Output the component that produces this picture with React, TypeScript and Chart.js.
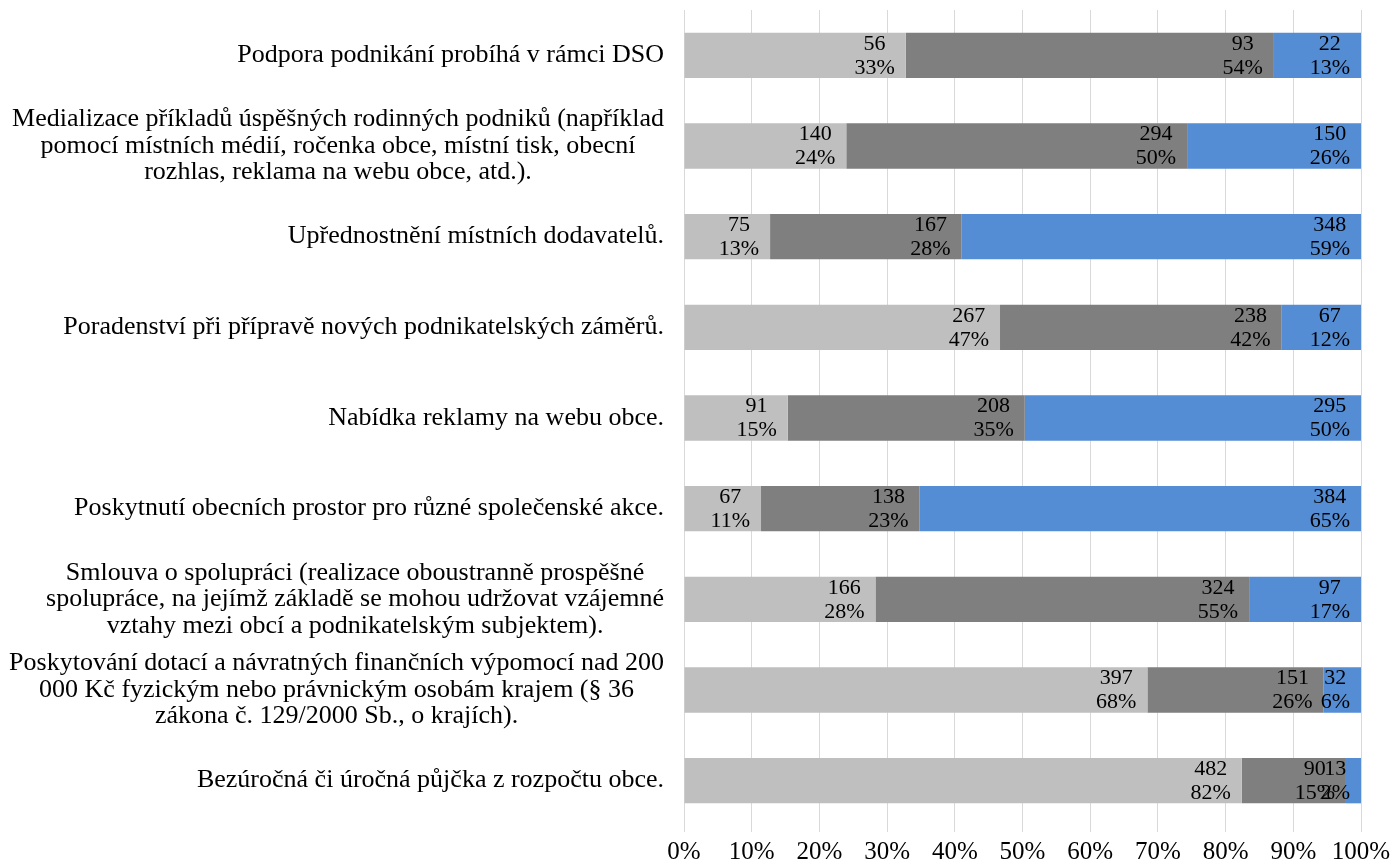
import React, { useEffect, useRef } from "react";
import { Chart, registerables } from "chart.js";

Chart.register(...registerables);

const categories: string[][] = [
  ["Podpora podnikání probíhá v rámci DSO"],
  [
    "Medializace příkladů úspěšných rodinných podniků (například",
    "pomocí místních médií, ročenka obce, místní tisk, obecní",
    "rozhlas, reklama na webu obce, atd.).",
  ],
  ["Upřednostnění místních dodavatelů."],
  ["Poradenství při přípravě nových podnikatelských záměrů."],
  ["Nabídka reklamy na webu obce."],
  ["Poskytnutí obecních prostor pro různé společenské akce."],
  [
    "Smlouva o spolupráci (realizace oboustranně prospěšné",
    "spolupráce, na jejímž základě se mohou udržovat vzájemné",
    "vztahy mezi obcí a podnikatelským subjektem).",
  ],
  [
    "Poskytování dotací a návratných finančních výpomocí nad 200",
    "000 Kč fyzickým nebo právnickým osobám krajem (§ 36",
    "zákona č. 129/2000 Sb., o krajích).",
  ],
  ["Bezúročná či úročná půjčka z rozpočtu obce."],
];

const seriesA: number[] = [56, 140, 75, 267, 91, 67, 166, 397, 482];
const seriesB: number[] = [93, 294, 167, 238, 208, 138, 324, 151, 90];
const seriesC: number[] = [22, 150, 348, 67, 295, 384, 97, 32, 13];

const seriesColors: string[] = ["#BFBFBF", "#7F7F7F", "#548DD4"];
const xTicks: number[] = [0, 10, 20, 30, 40, 50, 60, 70, 80, 90, 100];

const FONT = "'Liberation Serif', 'Times New Roman', serif";

export default function App() {
  const ref = useRef<HTMLCanvasElement | null>(null);

  useEffect(() => {
    if (!ref.current) return;
    const counts = [seriesA, seriesB, seriesC];
    const totals = seriesA.map((_, i) => seriesA[i] + seriesB[i] + seriesC[i]);
    const pcts = counts.map((s) => s.map((v, i) => (v / totals[i]) * 100));

    const labelPlugin = {
      id: "customLabels",
      afterDatasetsDraw(chart: any) {
        const ctx = chart.ctx as CanvasRenderingContext2D;
        ctx.save();
        // data labels
        ctx.font = `22px ${FONT}`;
        ctx.fillStyle = "#000";
        ctx.textBaseline = "middle";
        ctx.textAlign = "center";
        counts.forEach((series, di) => {
          const meta = chart.getDatasetMeta(di);
          meta.data.forEach((el: any, j: number) => {
            const l1 = String(series[j]);
            const l2 = Math.round(pcts[di][j]) + "%";
            const w = Math.max(ctx.measureText(l1).width, ctx.measureText(l2).width);
            const cx = el.x - 11 - w / 2;
            ctx.fillText(l1, cx, el.y - 11.5);
            ctx.fillText(l2, cx, el.y + 12.5);
          });
        });
        // category labels
        const yScale = chart.scales.y;
        const rightEdge = chart.chartArea.left - 20;
        ctx.font = `26px ${FONT}`;
        const lh = 26.5;
        (chart.data.labels as string[][]).forEach((lines, i) => {
          const y = yScale.getPixelForValue(i);
          const w = Math.max(...lines.map((t) => ctx.measureText(t).width));
          const cx = rightEdge - w / 2;
          const startY = y - ((lines.length - 1) * lh) / 2;
          lines.forEach((t, k) => ctx.fillText(t, cx, startY + k * lh));
        });
        ctx.restore();
      },
    };

    const chart = new Chart(ref.current, {
      type: "bar",
      data: {
        labels: categories as any,
        datasets: counts.map((s, di) => ({
          label: "S" + (di + 1),
          data: pcts[di],
          backgroundColor: seriesColors[di],
          borderWidth: 0,
          categoryPercentage: 1,
          barPercentage: 0.5,
        })),
      },
      options: {
        indexAxis: "y",
        responsive: false,
        animation: false,
        layout: { padding: { top: 10, left: 684, right: 31, bottom: 0 } },
        plugins: {
          legend: { display: false },
          tooltip: { enabled: false },
        },
        scales: {
          x: {
            type: "linear",
            stacked: true,
            min: 0,
            max: 100,
            afterBuildTicks: (axis: any) => {
              axis.ticks = xTicks.map((v) => ({ value: v }));
            },
            afterFit: (axis: any) => {
              axis.height = 38;
              axis.paddingLeft = 0;
              axis.paddingRight = 0;
            },
            ticks: {
              callback: (v: any) => v + "%",
              color: "#000",
              font: { family: FONT, size: 25, lineHeight: 1 },
              padding: 8,
              maxRotation: 0,
              autoSkip: false,
            },
            grid: { color: "#D9D9D9", lineWidth: 1, drawTicks: true, tickLength: 6 },
            border: { display: false },
          },
          y: {
            stacked: true,
            display: false,
          },
        },
      },
      plugins: [labelPlugin],
    } as any);
    return () => chart.destroy();
  }, []);

  return (
    <div style={{ position: "absolute", left: 0, top: 0, width: 1392, height: 864 }}>
      <canvas ref={ref} width={1392} height={864} />
    </div>
  );
}
